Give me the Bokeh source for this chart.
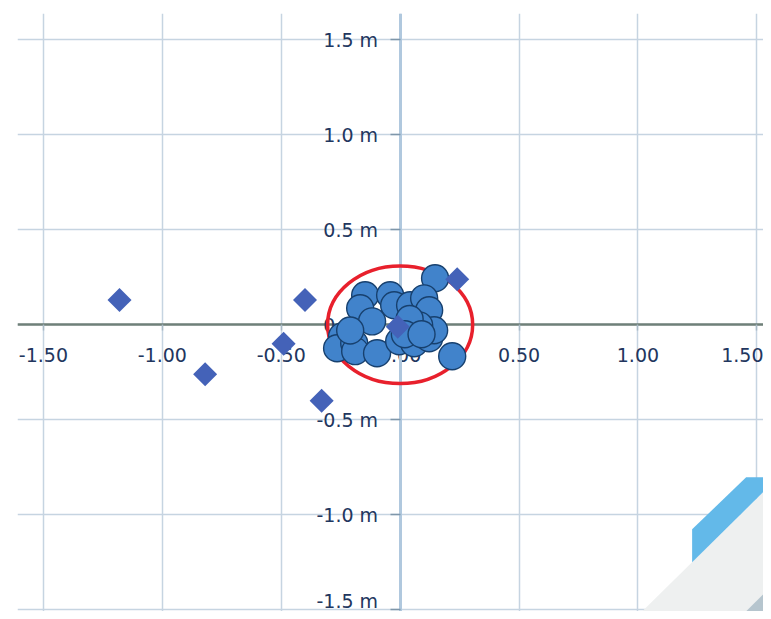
from bokeh.plotting import figure
from bokeh.models import FixedTicker, PrintfTickFormatter, Range1d
from bokeh.embed import file_html
from bokeh.resources import INLINE
import math

# ---- data ----
tick_values = [-1.5, -1.0, -0.5, 0.0, 0.5, 1.0, 1.5]

circle_x = [0.147, -0.147, -0.042, -0.025, -0.168, 0.042, 0.101, 0.122, -0.118,
            -0.244, -0.265, -0.193, -0.189, -0.097, -0.004, 0.059, 0.122, 0.143,
            0.080, 0.219, 0.040, 0.020, 0.090, -0.210]
circle_y = [0.245, 0.155, 0.155, 0.103, 0.087, 0.103, 0.139, 0.076, 0.018,
            -0.061, -0.124, -0.097, -0.139, -0.150, -0.087, -0.097, -0.071, -0.029,
            -0.003, -0.166, 0.030, -0.050, -0.050, -0.030]

diamond_x = [-1.18, -0.82, -0.40, -0.49, -0.33, 0.24, -0.01]
diamond_y = [0.13, -0.26, 0.13, -0.10, -0.40, 0.24, -0.01]

ring_x = [0.0]
ring_y = [0.0]
ring_w = [0.61]
ring_h = [0.62]

# ---- figure ----
X0, X1 = -1.609, 1.528
Y0, Y1 = -1.509, 1.638
p = figure(width=763, height=611, output_backend="svg", toolbar_location=None,
           x_range=Range1d(X0, X1), y_range=Range1d(Y0, Y1),
           min_border_left=17, min_border_top=13, min_border_right=0, min_border_bottom=0,
           background_fill_color="white", border_fill_color="white")
p.outline_line_color = None

# slide decoration (bottom-right corner), given in page pixels and mapped to data
def px2d(px, py):
    return (px - 400.0) / 237.8, (323.5 - py) / 190.0

deco_light = [(633, 619), (771, 483), (771, 619)]
deco_dark = [(737, 619), (771, 585), (771, 619)]
deco_blue = [(692, 528), (746, 476), (771, 476), (771, 483), (692, 561)]
for poly, col in ((deco_light, "#eef0f0"), (deco_dark, "#b6c5ce"), (deco_blue, "#63b9e9")):
    xs, ys = zip(*[px2d(a, b) for a, b in poly])
    p.patch(list(xs), list(ys), fill_color=col, line_color=None)

# red ring
p.ellipse(x=ring_x, y=ring_y, width=ring_w, height=ring_h, fill_color=None,
          line_color="#e8202c", line_width=3.5)

# circles
p.scatter(circle_x, circle_y, marker="circle", size=27, fill_color="#4183cb",
          line_color="#17406e", line_width=1.4)

# diamonds
p.scatter(diamond_x, diamond_y, marker="square", angle=math.pi / 4, size=17,
          fill_color="#4462b8", line_color=None)

# grid (below everything)
for g in (p.xgrid, p.ygrid):
    g.grid_line_color = "#c6d4e1"
    g.grid_line_width = 1.5
    g.level = "image"
p.xgrid.ticker = FixedTicker(ticks=tick_values)
p.ygrid.ticker = FixedTicker(ticks=tick_values)

# axes crossing at origin
p.xaxis.fixed_location = 0
p.yaxis.fixed_location = 0
p.xaxis.ticker = FixedTicker(ticks=tick_values)
p.yaxis.ticker = FixedTicker(ticks=tick_values)
p.xaxis.formatter = PrintfTickFormatter(format="%.2f")
p.yaxis.formatter = PrintfTickFormatter(format="%.1f m")
p.xaxis.minor_tick_line_color = None
p.yaxis.minor_tick_line_color = None

p.xaxis.axis_line_color = "#6f8079"
p.xaxis.axis_line_width = 2.5
p.xaxis.major_tick_line_color = "#a9bac6"
p.xaxis.major_tick_line_width = 1.5
p.xaxis.major_tick_out = 6
p.xaxis.major_tick_in = 0
p.xaxis.major_label_standoff = 17

p.yaxis.axis_line_color = "#b0c8de"
p.yaxis.axis_line_width = 3
p.yaxis.major_tick_line_color = "#7f97aa"
p.yaxis.major_tick_line_width = 1.5
p.yaxis.major_tick_out = 10
p.yaxis.major_tick_in = 0
p.yaxis.major_label_standoff = 12

for ax in (p.xaxis, p.yaxis):
    ax.major_label_text_font = "DejaVu Sans"
    ax.major_label_text_font_size = "19px"
    ax.major_label_text_color = "#22365e"
    ax.level = "underlay"

open("out.html", "w").write(file_html(p, INLINE))
